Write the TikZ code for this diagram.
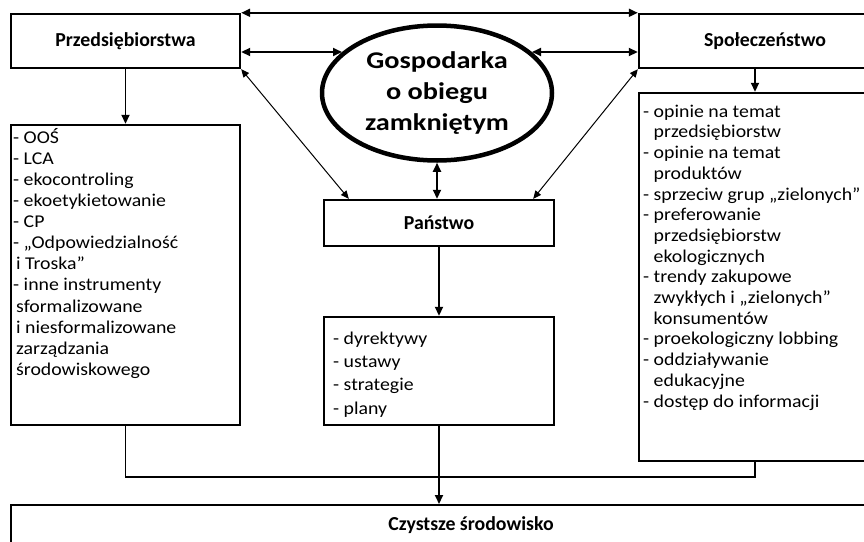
\documentclass[tikz,border=0pt]{standalone}
\usepackage{fontspec}
\setmainfont{Carlito}
\newfontfamily\listfont[FakeStretch=1.1]{Carlito}
\newfontfamily\ekofont[FakeStretch=1.18]{Carlito}
\usetikzlibrary{arrows.meta,shapes.geometric,calc}
\newcommand{\indl}{\hbox to 3pt{}}
\newcommand{\indr}{\phantom{- }}
\begin{document}
\begin{tikzpicture}[x=1pt,y=-1pt,
  box/.style={draw,rectangle,line width=2.4pt,inner sep=0pt},
  hdr/.style={font=\bfseries\fontsize{19.8}{23}\selectfont},
  listtxt/.style={anchor=north west,inner sep=0pt,align=left},
  conn/.style={line width=1.8pt},
  dual/.style={conn,{Triangle[length=9pt,width=8pt]}-{Triangle[length=9pt,width=8pt]}},
  single/.style={conn,-{Triangle[length=9pt,width=8pt]}},
  diag/.style={line width=1pt,{Triangle[length=8pt,width=7pt]}-{Triangle[length=8pt,width=7pt]}},
]
\useasboundingbox (0,0) rectangle (864,541);
\begin{scope}
\clip (0,0) rectangle (864,541);
% boxes
\node[box,hdr,minimum width=229pt,minimum height=54pt] (prz) at (125.5,41) {Przedsiębiorstwa};
\node[box,hdr,minimum width=252pt,minimum height=54pt] (spo) at (765,41) {Społeczeństwo};
\node[draw,ellipse,line width=4.5pt,inner sep=0pt,minimum width=230pt,minimum height=135pt,align=center,font=\ekofont\bfseries\fontsize{24}{31}\selectfont] (eko) at (437,93) {Gospodarka\\o obiegu\\zamkniętym};
\node[box,hdr,minimum width=230pt,minimum height=46pt] (pan) at (439,223) {Państwo};
\node[box,minimum width=229pt,minimum height=300pt] (lewa) at (125.5,275) {};
\node[box,minimum width=230pt,minimum height=108pt] (mid) at (439,371) {};
\node[box,minimum width=252pt,minimum height=368pt] (prawa) at (765,277) {};
\node[box,hdr,line width=2pt,minimum width=920pt,minimum height=40pt] (czy) at (471,525) {Czystsze środowisko};
% list texts
\node[listtxt,font=\listfont\fontsize{18}{21.1}\selectfont] (lewaT) at (13,128) {\rule{0pt}{15pt}- OOŚ\\- LCA\\- ekocontroling\\- ekoetykietowanie\\- CP\\- „Odpowiedzialność\\\indl i Troska”\\- inne instrumenty\\\indl sformalizowane\\\indl i niesformalizowane\\\indl zarządzania\\\indl środowiskowego};
\node[listtxt,font=\listfont\fontsize{18}{23.3}\selectfont] (midT) at (333,329) {\rule{0pt}{15pt}- dyrektywy\\- ustawy\\- strategie\\- plany};
\node[listtxt,font=\listfont\fontsize{18}{20.7}\selectfont] (prawaT) at (643,102) {\rule{0pt}{15pt}- opinie na temat\\\indr przedsiębiorstw\\- opinie na temat\\\indr produktów\\- sprzeciw grup „zielonych”\\- preferowanie\\\indr przedsiębiorstw\\\indr ekologicznych\\- trendy zakupowe\\\indr zwykłych i „zielonych”\\\indr konsumentów\\- proekologiczny lobbing\\- oddziaływanie\\\indr edukacyjne\\- dostęp do informacji};
% connectors
\coordinate (eL) at (342,52);
\coordinate (eR) at (532,52);
\coordinate (rx) at (755,0);
\coordinate (jn) at (439,477);
\draw[dual] (prz.north east) -- (spo.north west);
\draw[dual] (prz.east |- eL) -- (eL);
\draw[dual] (eR) -- (spo.west |- eR);
\draw[diag] (prz.south east) -- ($(pan.north west)+(26,0)$);
\draw[diag] (spo.south west) -- ($(pan.north east)+(-22,0)$);
\draw[dual] (eko.south) -- (eko.south |- pan.north);
\draw[single] (pan.south) -- (mid.north);
\draw[single] (prz.south) -- (lewa.north);
\draw[single] (spo.south -| rx) -- (prawa.north -| rx);
\draw[conn] (lewa.south) |- (jn) -| (prawa.south -| rx);
\draw[single] (mid.south) -- (czy.north -| mid.south);
\end{scope}
\end{tikzpicture}
\end{document}
